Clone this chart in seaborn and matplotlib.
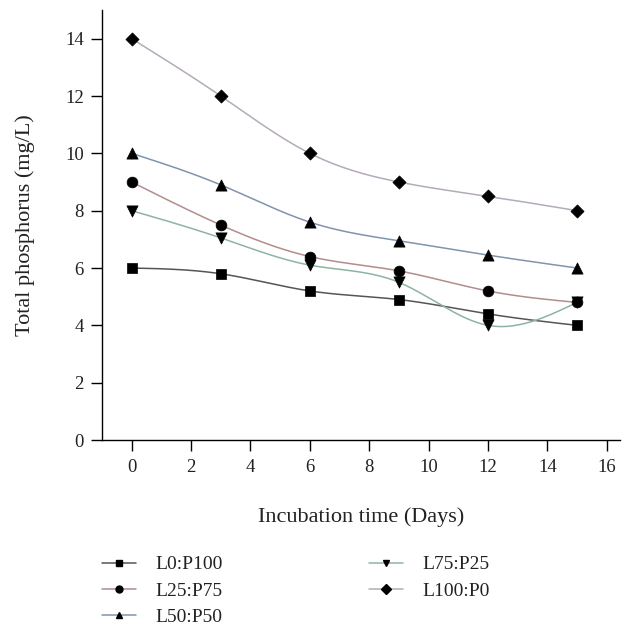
import numpy as np
import pandas as pd
import matplotlib
matplotlib.use("Agg")
import matplotlib.pyplot as plt
from matplotlib.lines import Line2D
import seaborn as sns

days = [0, 3, 6, 9, 12, 15]
series_names = ["L0:P100", "L25:P75", "L50:P50", "L75:P25", "L100:P0"]
l0_p100 = [6.0, 5.8, 5.2, 4.9, 4.4, 4.0]
l25_p75 = [9.0, 7.5, 6.4, 5.9, 5.2, 4.8]
l50_p50 = [10.0, 8.9, 7.6, 6.95, 6.45, 6.0]
l75_p25 = [8.0, 7.05, 6.1, 5.5, 4.0, 4.8]
l100_p0 = [14.0, 12.0, 10.0, 9.0, 8.5, 8.0]
values = [l0_p100, l25_p75, l50_p50, l75_p25, l100_p0]

colors = ["#555555", "#b48c8c", "#8094ab", "#8fb3a3", "#b5aab9"]
markers = ["s", "o", "^", "v", "D"]
msizes = [55, 60, 65, 65, 45]


def natural_spline(x, y, n=200):
    x = np.asarray(x, float)
    y = np.asarray(y, float)
    k = len(x)
    h = np.diff(x)
    A = np.zeros((k, k))
    b = np.zeros(k)
    A[0, 0] = 1
    A[-1, -1] = 1
    for i in range(1, k - 1):
        A[i, i - 1] = h[i - 1]
        A[i, i] = 2 * (h[i - 1] + h[i])
        A[i, i + 1] = h[i]
        b[i] = 3 * ((y[i + 1] - y[i]) / h[i] - (y[i] - y[i - 1]) / h[i - 1])
    c = np.linalg.solve(A, b)
    xs = np.linspace(x[0], x[-1], n)
    ys = np.empty_like(xs)
    for j, xv in enumerate(xs):
        i = min(np.searchsorted(x, xv, side="right") - 1, k - 2)
        dx = xv - x[i]
        bi = (y[i + 1] - y[i]) / h[i] - h[i] * (2 * c[i] + c[i + 1]) / 3
        di = (c[i + 1] - c[i]) / (3 * h[i])
        ys[j] = y[i] + bi * dx + c[i] * dx ** 2 + di * dx ** 3
    return xs, ys


sns.set_theme(style="ticks")
plt.rcParams["font.family"] = ["Liberation Serif", "DejaVu Serif"]

fig = plt.figure(figsize=(6.27, 6.26), dpi=100)
ax = fig.add_axes([0.1627, 0.2971, 0.8263, 0.6869])

pts = pd.DataFrame({
    "day": np.tile(days, len(series_names)),
    "tp": np.concatenate(values),
    "series": np.repeat(series_names, len(days)),
})

for name, vals, col, mk, ms in zip(series_names, values, colors, markers, msizes):
    xs, ys = natural_spline(days, vals)
    curve = pd.DataFrame({"day": xs, "tp": ys})
    sns.lineplot(data=curve, x="day", y="tp", ax=ax, color=col, linewidth=1.1,
                 estimator=None, sort=False)
    sub = pts[pts["series"] == name]
    sns.scatterplot(data=sub, x="day", y="tp", ax=ax, color="black", marker=mk,
                    s=ms, edgecolor="black", linewidth=0.5, zorder=5)

ax.set_xlim(-1, 16.45)
ax.set_ylim(0, 15)
ax.set_xticks(np.arange(0, 17, 2))
ax.set_yticks(np.arange(0, 15, 2))
ax.tick_params(axis="both", direction="out", length=8, width=1, labelsize=13.5,
               color="black", labelcolor="#222222")
ax.tick_params(axis="y", pad=5)
ax.tick_params(axis="x", pad=6)
for sp in ["top", "right"]:
    ax.spines[sp].set_visible(False)
for sp in ["left", "bottom"]:
    ax.spines[sp].set_color("black")
    ax.spines[sp].set_linewidth(1)
ax.set_xlabel("Incubation time (Days)", fontsize=16, color="#222222", labelpad=22)
ax.set_ylabel("Total phosphorus (mg/L)", fontsize=16, color="#222222", labelpad=22)

handles = [Line2D([0], [0], color=c, marker=m, markersize=5, markerfacecolor="black",
                  markeredgecolor="black", linewidth=1.1)
           for c, m in zip(colors, markers)]
fig.legend(handles, series_names, loc="upper left", bbox_to_anchor=(0.1627, 0.112),
           ncol=2, frameon=False, fontsize=14, handlelength=1.75, labelspacing=0.45,
           columnspacing=7.5, handletextpad=1.0, borderpad=0, borderaxespad=0,
           labelcolor="#222222")

fig.savefig("out.png", dpi=100)
